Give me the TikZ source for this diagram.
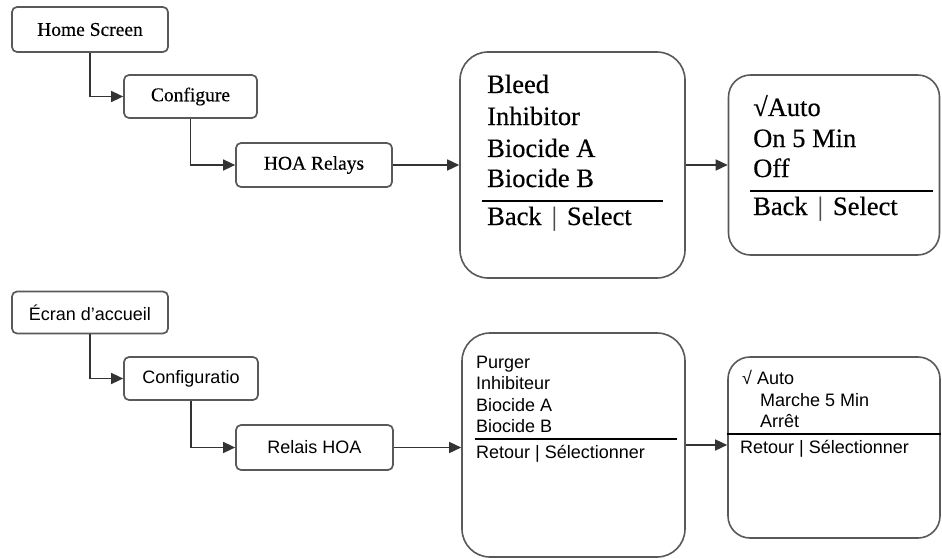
\documentclass[tikz,border=0pt]{standalone}
\usepackage{fontspec}
\setmainfont{Liberation Serif}[FakeBold=0.45]
\newfontfamily\arialfont{Liberation Sans}
\usetikzlibrary{arrows.meta}

\begin{document}
\begin{tikzpicture}[x=1pt, y=-1pt,
        menubox/.style={draw=black!65, line width=1.7pt, rounded corners=5pt,
            fill=white, inner sep=0pt},
        screenbox/.style={draw=black!65, line width=1.6pt, fill=white, inner sep=0pt},
        link/.style={draw=black!80, line width=1.5pt,
            -{Triangle[length=12pt, width=11pt]}},
        bigitem/.style={anchor=base west, inner sep=0pt,
            font=\fontsize{26.5}{30}\selectfont},
        smallitem/.style={anchor=base west, inner sep=0pt,
            font=\arialfont\fontsize{18}{21}\selectfont}]
    \useasboundingbox (0, 0) rectangle (942, 559);

        % English menu
        \node[menubox, minimum width=156pt, minimum height=45pt,
            font=\fontsize{19.5}{22}\selectfont] (home) at (90, 29.5) {Home Screen};
        \node[menubox, minimum width=133pt, minimum height=43pt,
            font=\fontsize{19.5}{22}\selectfont] (config) at (190.5, 96.5) {Configure};
        \node[menubox, minimum width=156pt, minimum height=44pt,
            font=\fontsize{19.5}{22}\selectfont] (hoa) at (314, 165) {HOA Relays};
        \node[screenbox, rounded corners=28pt, minimum width=225pt,
            minimum height=226pt] (relays) at (572.5, 165) {};
        \node[screenbox, rounded corners=22pt, minimum width=211pt,
            minimum height=180pt] (modes) at (834, 165) {};

        \draw[link] (home.south) |- (config.west);
        \draw[link] (config.south) |- (hoa.west);
        \draw[link] (hoa.east) -- (relays.west);
        \draw[link] (relays.east) -- (modes.west);

        \node[bigitem] (bleed) at (487, 93) {Bleed};
        \node[bigitem] (inhibitor) at (487, 125) {Inhibitor};
        \node[bigitem] (biocideA) at (487, 157) {Biocide A};
        \node[bigitem] (biocideB) at (487, 187) {Biocide B};
        \draw[line width=2.8pt] (482, 201) -- (663, 201);
        \node[bigitem] (relaysback) at (487, 225)
            {Back\hspace{10pt}{\color{black!70}|}\hspace{10pt}Select};

        \node[bigitem] (auto) at (753, 116) {√Auto};
        \node[bigitem] (onfive) at (753, 147) {On 5 Min};
        \node[bigitem] (off) at (753, 177) {Off};
        \draw[line width=2.8pt] (750, 191) -- (933, 191);
        \node[bigitem] (modesback) at (753, 215)
            {Back\hspace{10pt}{\color{black!70}|}\hspace{10pt}Select};

        % French menu
        \node[menubox, minimum width=156pt, minimum height=42pt,
            font=\arialfont\fontsize{18}{21}\selectfont] (accueil) at (90, 312.5)
            {Écran d’accueil};
        \node[menubox, minimum width=134pt, minimum height=43pt,
            font=\arialfont\fontsize{18}{21}\selectfont] (configfr) at (191, 378.5)
            {Configuratio};
        \node[menubox, minimum width=157pt, minimum height=45pt,
            font=\arialfont\fontsize{18}{21}\selectfont] (relais) at (314.5, 447.5)
            {Relais HOA};
        \node[screenbox, rounded corners=28pt, minimum width=223pt,
            minimum height=224pt] (relaisfr) at (573.5, 445) {};
        \node[screenbox, rounded corners=22pt, minimum width=212pt,
            minimum height=181pt] (modesfr) at (834, 447.5) {};

        \draw[link] (accueil.south) |- (configfr.west);
        \draw[link] (configfr.south) |- (relais.west);
        \draw[link] (relais.east) -- (relais.east -| relaisfr.west);
        \draw[link] (relaisfr.east) -- (relaisfr.east -| modesfr.west);

        \node[smallitem] (purger) at (476, 368) {Purger};
        \node[smallitem] (inhibiteur) at (476, 389) {Inhibiteur};
        \node[smallitem] (biocideAfr) at (476, 411) {Biocide A};
        \node[smallitem] (biocideBfr) at (476, 432) {Biocide B};
        \draw[line width=1.4pt] (475, 439) -- (677, 439);
        \node[smallitem] (relaisretour) at (476, 458) {Retour | Sélectionner};

        \node[smallitem] (autofr) at (742, 384) {√ Auto};
        \node[smallitem] (marche) at (760, 406) {Marche 5 Min};
        \node[smallitem] (arret) at (760, 427) {Arrêt};
        \draw[line width=1.4pt] (modesfr.west |- 0, 434) -- (modesfr.east |- 0, 434);
        \node[smallitem] (modesretour) at (740, 453) {Retour | Sélectionner};
    \end{tikzpicture}
\end{document}
